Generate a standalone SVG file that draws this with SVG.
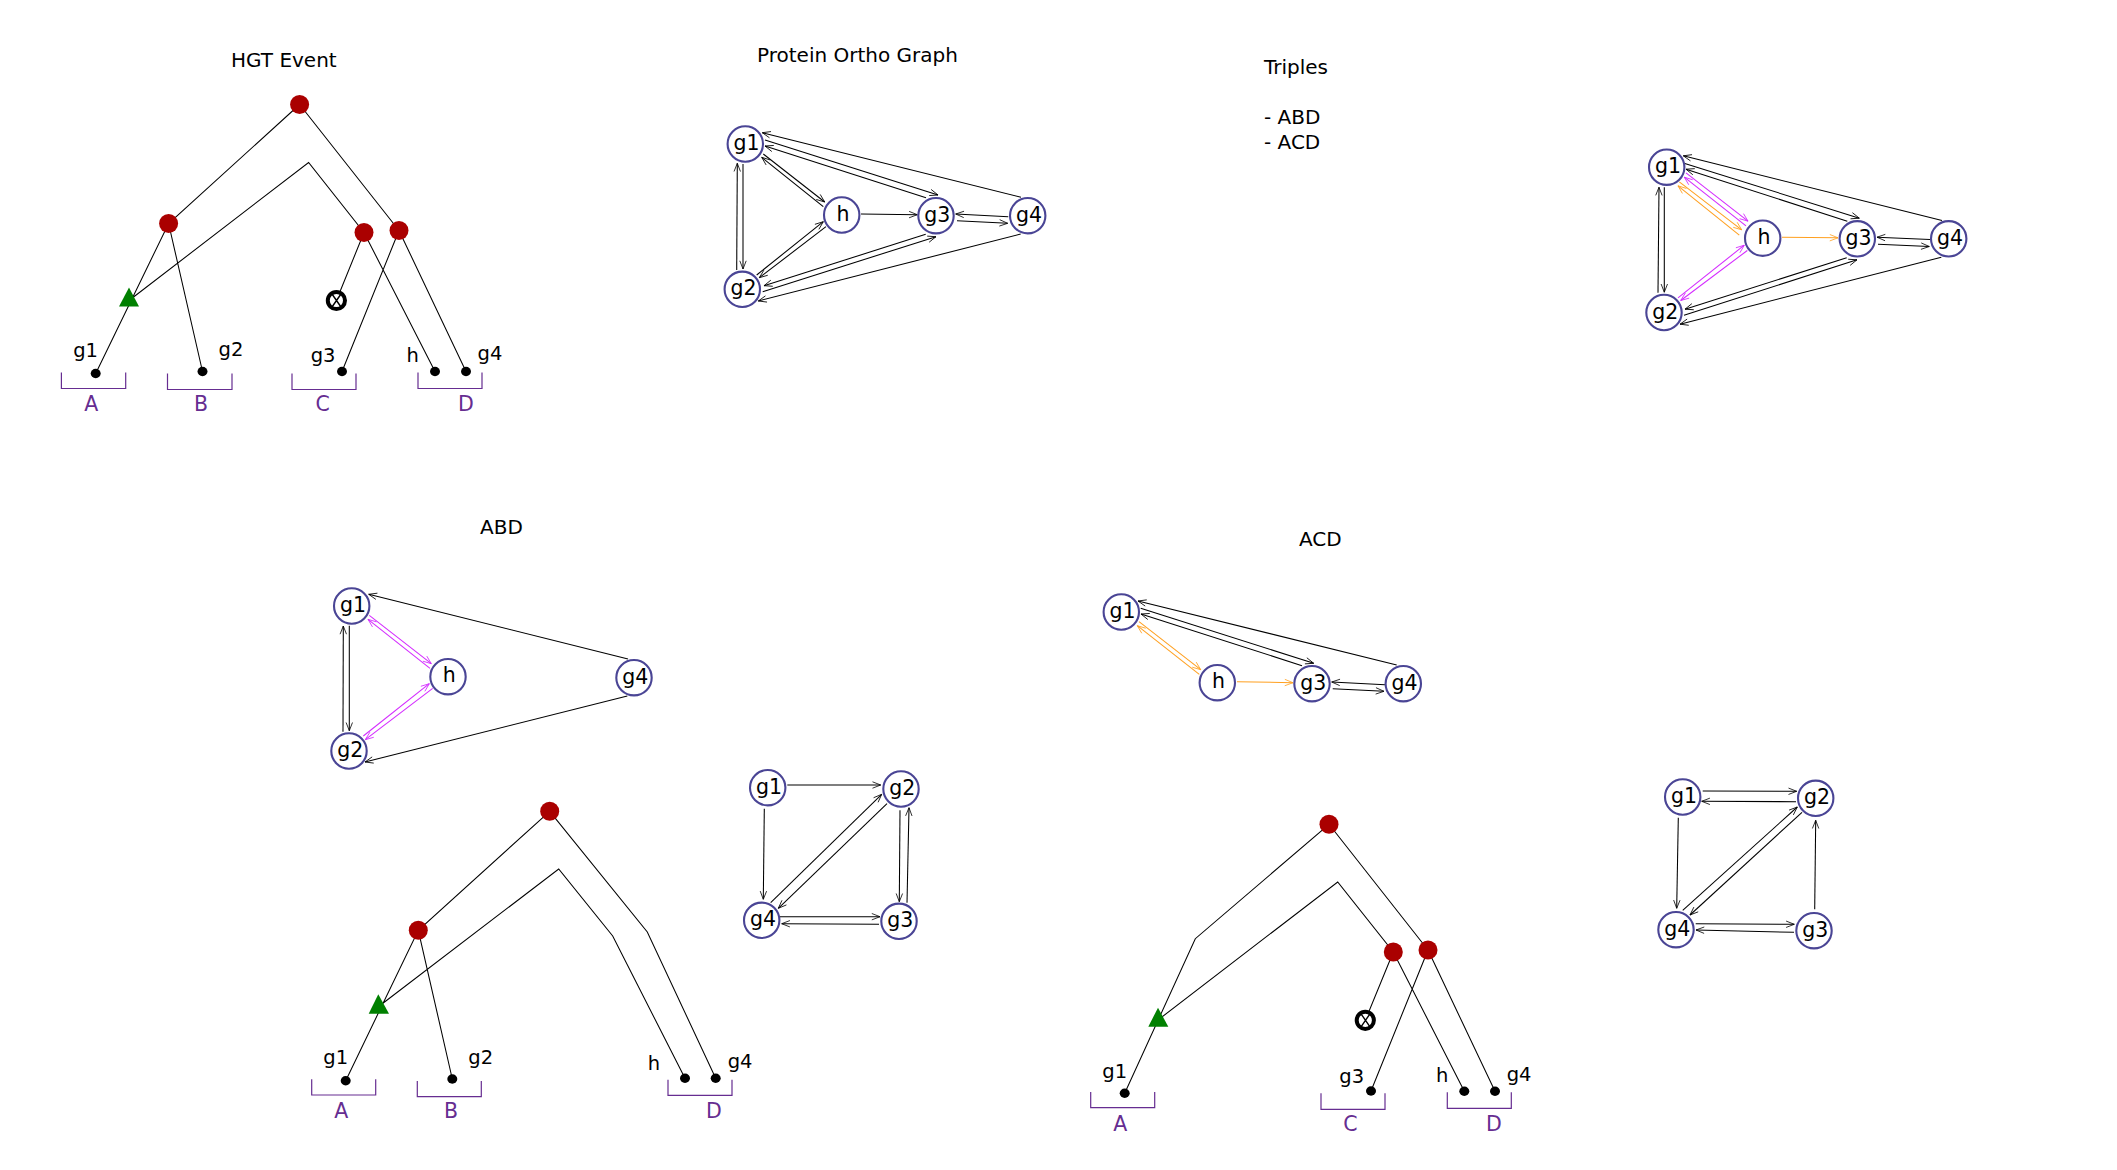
<svg xmlns="http://www.w3.org/2000/svg" width="2117" height="1170" viewBox="0 0 2117 1170">
<style>
text{font-family:"DejaVu Sans","Liberation Sans",sans-serif;fill:#000}
.t{font-size:20px}
.lf{font-size:19.5px}
.sp{font-size:20.5px;fill:#662d91}
.n{font-size:20.5px;text-anchor:middle}
.nc{fill:#fff;stroke:#4a4595;stroke-width:2.1}
.r{fill:#aa0000}
.g{fill:#008000}
.b{fill:#000}
.e{fill:none;stroke:#000;stroke-width:1.05}
.a{fill:none;stroke:#000;stroke-width:1.05;marker-end:url(#ak)}
.m{fill:none;stroke:#d42aff;stroke-width:1.05;marker-end:url(#am)}
.o{fill:none;stroke:#ffa020;stroke-width:1.05;marker-end:url(#ao)}
.br{fill:none;stroke:#662d91;stroke-width:1.2}
.lo{fill:#fff;stroke:#000;stroke-width:4}
.lx{stroke:#000;stroke-width:1.4;fill:none}
</style>
<defs>
<marker id="ak" markerUnits="userSpaceOnUse" markerWidth="14" markerHeight="12" refX="10" refY="5" orient="auto" overflow="visible"><path d="M1.8,1.8L10,5L1.8,8.2" fill="none" stroke="#000" stroke-width=".8"/></marker>
<marker id="am" markerUnits="userSpaceOnUse" markerWidth="14" markerHeight="12" refX="10" refY="5" orient="auto" overflow="visible"><path d="M1.8,1.8L10,5L1.8,8.2" fill="none" stroke="#d42aff" stroke-width=".8"/></marker>
<marker id="ao" markerUnits="userSpaceOnUse" markerWidth="14" markerHeight="12" refX="10" refY="5" orient="auto" overflow="visible"><path d="M1.8,1.8L10,5L1.8,8.2" fill="none" stroke="#ffa020" stroke-width=".8"/></marker>
</defs>

<g id="titles">
<text class="t" x="231" y="67">HGT Event</text>
<text class="t" x="757" y="62">Protein Ortho Graph</text>
<text class="t" x="1264" y="73.5">Triples</text>
<text class="t" x="1264" y="123.5">- ABD</text>
<text class="t" x="1264" y="148.5">- ACD</text>
<text class="t" x="480" y="533.5">ABD</text>
<text class="t" x="1299" y="546">ACD</text>
</g>

<g id="connectors">
<path class="e" transform="translate(0,.5)" d="M299.6,104L168.6,223L95.7,373M168.6,223L202.5,371M129,300L308.6,162L364,232L435,371M364,232L336.4,300M299.6,104L399,230L342,371M399,230L466,371"/>
<g transform="translate(0,1)">
<path class="e" d="M549.7,810.3L418.3,929.3L345.7,1079.7M418.3,929.3L452.3,1078M378,1006L558.7,868L612.7,935L685,1077.3M549.7,810.3L647.3,931L715.7,1077.3"/>
<path class="e" d="M1329,823.3L1195.3,937.7L1124.7,1092.3M1158,1019L1337.7,881L1393.3,951L1464.3,1090.3M1393.3,951L1365.3,1019.3M1329,823.3L1428,949L1371,1090M1428,949L1495,1090.3"/>
</g>

<path class="a" d="M1021,197.3L762.3,132.7"/>
<path class="a" d="M765,140L938,195"/>
<path class="a" d="M926,197.7L765,146"/>
<path class="a" d="M763.3,154L824.7,202"/>
<path class="a" d="M823.3,206.7L761.7,157.3"/>
<path class="a" d="M736.7,270L737.3,163.3"/>
<path class="a" d="M743,164L743,269"/>
<path class="a" d="M756.7,275L823.3,221.7"/>
<path class="a" d="M826,226.7L759.3,277.7"/>
<path class="a" d="M861,214L917.3,214.7"/>
<path class="a" d="M925.7,234.3L764,285.7"/>
<path class="a" d="M762.7,291.7L936,236.7"/>
<path class="a" d="M1008.3,216.7L955.7,214"/>
<path class="a" d="M957,220.7L1007.7,223.3"/>
<path class="a" d="M1020.7,234L758.3,301"/>

<g transform="translate(0,.5)">
<path class="a" d="M1942,220L1683.3,155.3"/>
<path class="a" d="M1684,162.7L1859.3,217.7"/>
<path class="a" d="M1847.3,220.7L1686,168.7"/>
<path class="a" d="M1846.7,257.3L1685,308.7"/>
<path class="a" d="M1684,314.7L1857,259.3"/>
<path class="a" d="M1941.3,256.7L1680,323.7"/>
<path class="a" d="M1930,239L1877,236.7"/>
<path class="a" d="M1878,243.7L1929.3,246"/>
<path class="a" d="M1664.3,186.7L1664.3,291.7"/>
<path class="a" d="M1658,292.3L1659,186.7"/>
<path class="m" d="M1686,172.3L1748,220.7"/>
<path class="m" d="M1746,225.3L1684.3,176.7"/>
<path class="o" d="M1679.3,181.3L1741.7,229.3"/>
<path class="o" d="M1739.3,234.7L1678,185.3"/>
<path class="m" d="M1678,297.3L1744.3,244.7"/>
<path class="m" d="M1747.3,250L1680.7,300"/>
<path class="o" d="M1782,236.7L1838,237.3"/>
</g>

<g transform="translate(0,1)">
<path class="a" d="M628,658L368.7,593.3"/>
<path class="m" d="M369.3,614.3L431.3,662.7"/>
<path class="m" d="M430,667.3L368,618.3"/>
<path class="a" d="M343,730.7L343.3,625"/>
<path class="a" d="M349.3,624.7L349.3,729.7"/>
<path class="m" d="M363.3,735L429.3,682.7"/>
<path class="m" d="M432.7,687.3L365.3,738.7"/>
<path class="a" d="M627.3,695L365,761"/>

<path class="a" d="M1396.7,664L1138,600"/>
<path class="a" d="M1140.7,607.3L1313.7,662.3"/>
<path class="a" d="M1302,664.7L1141,613"/>
<path class="o" d="M1139,620.7L1200.7,668.7"/>
<path class="o" d="M1199.3,673.3L1137.3,624.7"/>
<path class="o" d="M1237,680.7L1293,681.7"/>
<path class="a" d="M1385,683.7L1331.7,681"/>
<path class="a" d="M1332.7,687.7L1384,690.3"/>

<path class="a" d="M787.3,784L880.7,784"/>
<path class="a" d="M764.3,807.7L763.3,898.3"/>
<path class="a" d="M770.7,901.7L881.7,793.3"/>
<path class="a" d="M887,802.7L778.3,907.3"/>
<path class="a" d="M900,809.3L899.3,900.7"/>
<path class="a" d="M907,901.7L909,806.7"/>
<path class="a" d="M780,915.7L880,915.7"/>
<path class="a" d="M879,923.3L781.7,922.7"/>

<path class="a" d="M1702.7,790L1796.7,790.3"/>
<path class="a" d="M1796,800.7L1701.7,800.3"/>
<path class="a" d="M1678.3,816.7L1676.7,907.3"/>
<path class="a" d="M1682.7,909.3L1797.3,806"/>
<path class="a" d="M1802,811.3L1690,914"/>
<path class="a" d="M1814.7,908.3L1815.7,819.3"/>
<path class="a" d="M1695.7,922.7L1794.3,923.3"/>
<path class="a" d="M1794,931.3L1696,929"/>
</g>
</g>

<g id="tree1-nodes" transform="translate(0,.5)">
<g id="t1-root"><circle class="r" cx="299.6" cy="104" r="9.5"/></g>
<g id="t1-left"><circle class="r" cx="168.6" cy="223" r="9.5"/></g>
<g id="t1-hgt"><polygon class="g" points="129,287 119,306 139,306"/></g>
<g id="t1-r1"><circle class="r" cx="364" cy="232" r="9.5"/></g>
<g id="t1-r2"><circle class="r" cx="399" cy="230" r="9.5"/></g>
<g id="t1-loss"><circle class="lo" cx="336.4" cy="300" r="8.6"/><path class="lx" d="M332,293.5L341,306.5M341,293.5L332,306.5"/></g>
<g id="t1-g1"><ellipse class="b" cx="95.7" cy="373" rx="5" ry="4.7"/><text class="lf" x="73.2" y="356">g1</text></g>
<g id="t1-g2"><ellipse class="b" cx="202.5" cy="371" rx="5" ry="4.7"/><text class="lf" x="218.6" y="355">g2</text></g>
<g id="t1-g3"><ellipse class="b" cx="342" cy="371" rx="5" ry="4.7"/><text class="lf" x="310.7" y="361.7">g3</text></g>
<g id="t1-h"><ellipse class="b" cx="435" cy="371" rx="5" ry="4.7"/><text class="lf" x="406.4" y="361">h</text></g>
<g id="t1-g4"><ellipse class="b" cx="466" cy="371" rx="5" ry="4.7"/><text class="lf" x="477.5" y="359.3">g4</text></g>
<g id="t1-A"><path class="br" d="M61.4,372V388H125.7V372"/><text class="sp" x="84.3" y="410.7">A</text></g>
<g id="t1-B"><path class="br" d="M167.5,373V389H232V373"/><text class="sp" x="194" y="410.7">B</text></g>
<g id="t1-C"><path class="br" d="M292,373V389H356V373"/><text class="sp" x="315.4" y="410.7">C</text></g>
<g id="t1-D"><path class="br" d="M418,372V388H482V372"/><text class="sp" x="458" y="410.7">D</text></g>
</g>

<g id="tree-abd-nodes" transform="translate(0,1)">
<g id="t2-root"><circle class="r" cx="549.7" cy="810.3" r="9.5"/></g>
<g id="t2-left"><circle class="r" cx="418.3" cy="929.3" r="9.5"/></g>
<g id="t2-hgt"><polygon class="g" points="378.3,993.3 368.7,1012.7 389,1012.7"/></g>
<g id="t2-g1"><ellipse class="b" cx="345.7" cy="1079.7" rx="5" ry="4.7"/><text class="lf" x="323.3" y="1063.3">g1</text></g>
<g id="t2-g2"><ellipse class="b" cx="452.3" cy="1078" rx="5" ry="4.7"/><text class="lf" x="468.3" y="1062.7">g2</text></g>
<g id="t2-h"><ellipse class="b" cx="685" cy="1077.3" rx="5" ry="4.7"/><text class="lf" x="647.7" y="1069">h</text></g>
<g id="t2-g4"><ellipse class="b" cx="715.7" cy="1077.3" rx="5" ry="4.7"/><text class="lf" x="727.7" y="1066.7">g4</text></g>
<g id="t2-A"><path class="br" d="M311.7,1078.3V1094H375.7V1078.3"/><text class="sp" x="334.3" y="1116.7">A</text></g>
<g id="t2-B"><path class="br" d="M417.3,1080V1095.7H481.3V1080"/><text class="sp" x="444" y="1116.7">B</text></g>
<g id="t2-D"><path class="br" d="M668,1078.7V1094.3H732V1078.7"/><text class="sp" x="706" y="1116.7">D</text></g>
</g>

<g id="tree-acd-nodes" transform="translate(0,1)">
<g id="t3-root"><circle class="r" cx="1329" cy="823.3" r="9.5"/></g>
<g id="t3-hgt"><polygon class="g" points="1158,1006.7 1148.3,1025.7 1168.3,1025.7"/></g>
<g id="t3-r1"><circle class="r" cx="1393.3" cy="951" r="9.5"/></g>
<g id="t3-r2"><circle class="r" cx="1428" cy="949" r="9.5"/></g>
<g id="t3-loss"><circle class="lo" cx="1365.3" cy="1019.3" r="8.6"/><path class="lx" d="M1361,1012.8L1370,1025.8M1370,1012.8L1361,1025.8"/></g>
<g id="t3-g1"><ellipse class="b" cx="1124.7" cy="1092.3" rx="5" ry="4.7"/><text class="lf" x="1102.3" y="1076.7">g1</text></g>
<g id="t3-g3"><ellipse class="b" cx="1371" cy="1090" rx="5" ry="4.7"/><text class="lf" x="1339.3" y="1081.7">g3</text></g>
<g id="t3-h"><ellipse class="b" cx="1464.3" cy="1090.3" rx="5" ry="4.7"/><text class="lf" x="1436" y="1080.7">h</text></g>
<g id="t3-g4"><ellipse class="b" cx="1495" cy="1090.3" rx="5" ry="4.7"/><text class="lf" x="1506.7" y="1080">g4</text></g>
<g id="t3-A"><path class="br" d="M1090.7,1091V1106.7H1154.7V1091"/><text class="sp" x="1113.3" y="1130">A</text></g>
<g id="t3-C"><path class="br" d="M1321,1092.3V1108.3H1385V1092.3"/><text class="sp" x="1343.3" y="1130">C</text></g>
<g id="t3-D"><path class="br" d="M1447.3,1091.3V1107.3H1511.3V1091.3"/><text class="sp" x="1486" y="1130">D</text></g>
</g>

<g id="graph-ortho">
<g id="po-g1"><circle class="nc" cx="745.3" cy="144" r="17.7"/><text class="n" x="746.6" y="150">g1</text></g>
<g id="po-h"><circle class="nc" cx="841.7" cy="215" r="17.7"/><text class="n" x="843" y="220.5">h</text></g>
<g id="po-g3"><circle class="nc" cx="936" cy="215.7" r="17.7"/><text class="n" x="937.3" y="221.5">g3</text></g>
<g id="po-g4"><circle class="nc" cx="1027.7" cy="215.7" r="17.7"/><text class="n" x="1029" y="221.5">g4</text></g>
<g id="po-g2"><circle class="nc" cx="742.3" cy="289.3" r="17.7"/><text class="n" x="743.6" y="295.3">g2</text></g>
</g>

<g id="graph-coloured" transform="translate(0,.5)">
<g id="c-g1"><circle class="nc" cx="1666.7" cy="166.7" r="17.7"/><text class="n" x="1668" y="172.7">g1</text></g>
<g id="c-h"><circle class="nc" cx="1762.7" cy="237.7" r="17.7"/><text class="n" x="1764" y="243.2">h</text></g>
<g id="c-g3"><circle class="nc" cx="1857.3" cy="238.3" r="17.7"/><text class="n" x="1858.6" y="244.1">g3</text></g>
<g id="c-g4"><circle class="nc" cx="1948.7" cy="238.3" r="17.7"/><text class="n" x="1950" y="244.1">g4</text></g>
<g id="c-g2"><circle class="nc" cx="1664" cy="312" r="17.7"/><text class="n" x="1665.3" y="318">g2</text></g>
</g>

<g id="graph-abd" transform="translate(0,1)">
<g id="abd-g1"><circle class="nc" cx="351.7" cy="605" r="17.7"/><text class="n" x="353" y="611">g1</text></g>
<g id="abd-h"><circle class="nc" cx="448" cy="675.7" r="17.7"/><text class="n" x="449.3" y="681.2">h</text></g>
<g id="abd-g4"><circle class="nc" cx="634" cy="676.7" r="17.7"/><text class="n" x="635.3" y="682.5">g4</text></g>
<g id="abd-g2"><circle class="nc" cx="349" cy="750" r="17.7"/><text class="n" x="350.3" y="756">g2</text></g>
</g>

<g id="graph-acd" transform="translate(0,1)">
<g id="acd-g1"><circle class="nc" cx="1121.3" cy="611" r="17.7"/><text class="n" x="1122.6" y="617">g1</text></g>
<g id="acd-h"><circle class="nc" cx="1217.3" cy="681.7" r="17.7"/><text class="n" x="1218.6" y="687.2">h</text></g>
<g id="acd-g3"><circle class="nc" cx="1312" cy="682.7" r="17.7"/><text class="n" x="1313.3" y="688.5">g3</text></g>
<g id="acd-g4"><circle class="nc" cx="1403.3" cy="682.7" r="17.7"/><text class="n" x="1404.6" y="688.5">g4</text></g>
</g>

<g id="square-left" transform="translate(0,1)">
<g id="s1-g1"><circle class="nc" cx="767.7" cy="786.7" r="17.7"/><text class="n" x="769" y="792.7">g1</text></g>
<g id="s1-g2"><circle class="nc" cx="901" cy="788" r="17.7"/><text class="n" x="902.3" y="794">g2</text></g>
<g id="s1-g4"><circle class="nc" cx="761.7" cy="919.3" r="17.7"/><text class="n" x="763" y="925.3">g4</text></g>
<g id="s1-g3"><circle class="nc" cx="899" cy="920.3" r="17.7"/><text class="n" x="900.3" y="926.3">g3</text></g>
</g>

<g id="square-right" transform="translate(0,1)">
<g id="s2-g1"><circle class="nc" cx="1682.7" cy="796" r="17.7"/><text class="n" x="1684" y="802">g1</text></g>
<g id="s2-g2"><circle class="nc" cx="1815.7" cy="797.3" r="17.7"/><text class="n" x="1817" y="803.3">g2</text></g>
<g id="s2-g4"><circle class="nc" cx="1676" cy="928.7" r="17.7"/><text class="n" x="1677.3" y="934.7">g4</text></g>
<g id="s2-g3"><circle class="nc" cx="1814" cy="929.7" r="17.7"/><text class="n" x="1815.3" y="935.7">g3</text></g>
</g>
</svg>
